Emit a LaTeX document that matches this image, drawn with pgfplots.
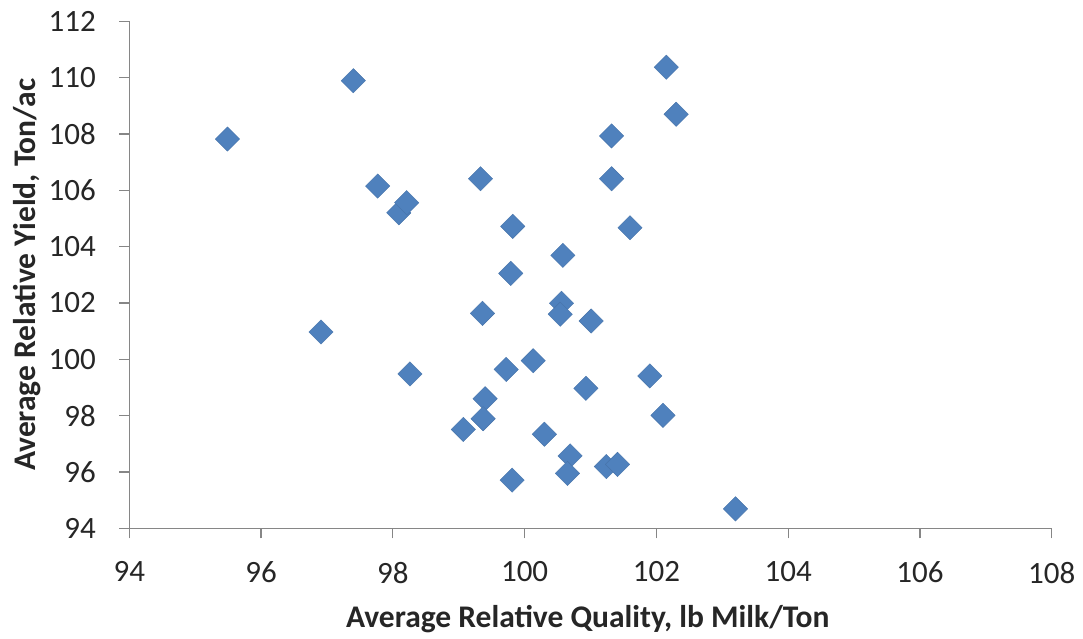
\documentclass[border=0pt]{standalone}
\usepackage{pgfplots}
\pgfplotsset{compat=1.18}
\usepackage{fontspec}
\setmainfont{Carlito}
\definecolor{mk}{HTML}{4F81BD}
\definecolor{ax}{HTML}{868686}
\begin{document}
\begin{tikzpicture}
\useasboundingbox (-129.3pt,-110.7pt) rectangle (953.7pt,528.3pt);
\begin{axis}[
  scale only axis,
  width=922.4pt, height=507pt,
  xmin=94, xmax=108, ymin=94, ymax=112,
  xtick={94,96,...,108}, ytick={94,96,...,112},
  axis x line*=bottom, axis y line*=left,
  axis line style={ax, line width=1.2pt, -},
  tick style={ax, line width=1.2pt},
  tick align=outside, major tick length=10pt,
  /pgf/number format/assume math mode=true,
  ticklabel style={font=\fontsize{31}{35}\selectfont, text=black!85},
  xticklabel style={yshift=-20pt},
  yticklabel style={xshift=-20pt},
  xlabel={\textbf{Average Relative Quality, lb Milk/Ton}},
  ylabel={\textbf{Average Relative Yield, Ton/ac}},
  xlabel style={font=\fontsize{31.5}{36}\selectfont, text=black!85, at={(axis description cs:0.497,-0.179)}, anchor=center},
  ylabel style={font=\fontsize{31.5}{36}\selectfont, text=black!85, at={(axis description cs:-0.111,0.5)}, anchor=center},
  clip=false,
]
\addplot[only marks, mark=square*, mark size=8.6pt, mark options={rotate=45, fill=mk, draw=mk!90!black, line width=0.4pt}] coordinates {
(95.49,107.82) (97.40,109.89) (97.77,106.15) (98.09,105.20) (98.21,105.56)
(99.33,106.41) (99.82,104.72) (99.79,103.05) (100.58,103.69) (100.56,101.99)
(100.54,101.60) (99.36,101.63) (101.32,107.93) (101.32,106.41) (101.60,104.67)
(102.15,110.37) (102.30,108.70) (101.01,101.36) (98.26,99.48) (99.72,99.64)
(100.13,99.95) (100.93,98.97) (101.90,99.41) (99.40,98.60) (99.37,97.89)
(99.07,97.51) (100.30,97.34) (102.10,98.01) (100.69,96.57) (100.65,95.95)
(101.24,96.19) (101.41,96.27) (99.81,95.71) (103.20,94.69) (96.91,100.97)
};
\end{axis}
\end{tikzpicture}
\end{document}
